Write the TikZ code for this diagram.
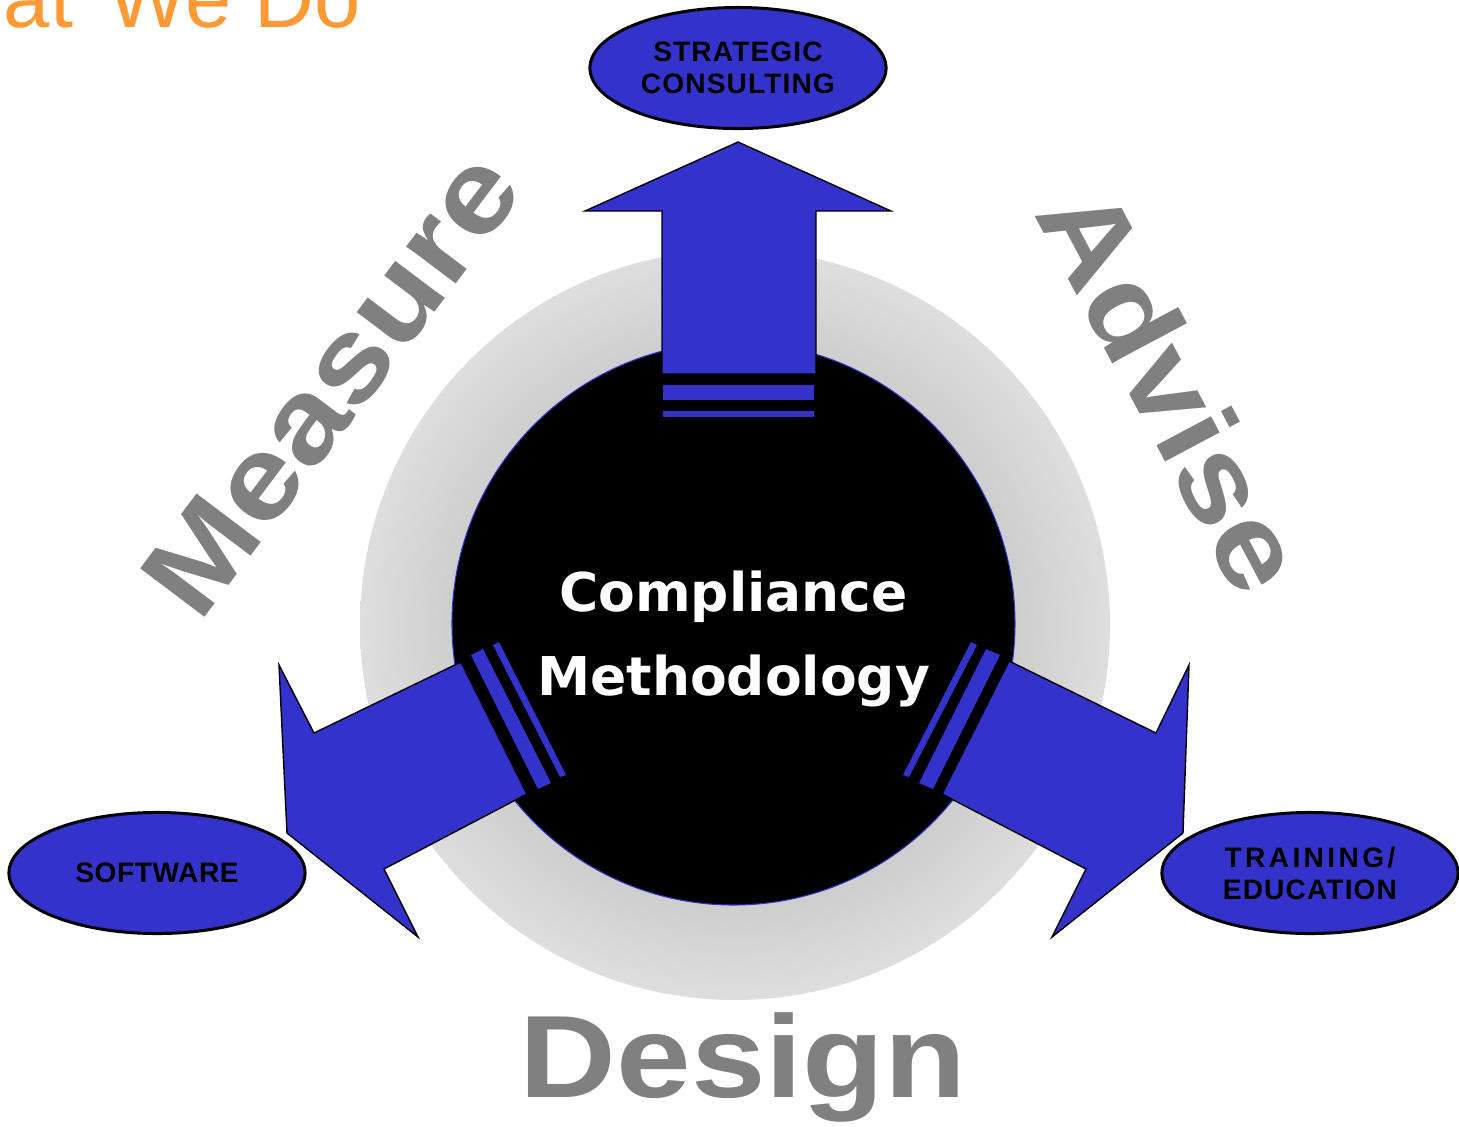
\documentclass[tikz,border=0pt]{standalone}
\usepackage{fontspec}
\setmainfont{Liberation Sans}
\newfontfamily\dejab{DejaVu Sans}
\usetikzlibrary{shapes.geometric}
\definecolor{arrowblue}{HTML}{3333CC}
\definecolor{wordgray}{HTML}{808080}
\definecolor{titleorange}{HTML}{FF9933}
\definecolor{ringin}{HTML}{CCCCCC}
\definecolor{ringout}{HTML}{DEDEDE}
\pgfdeclareradialshading{ringshade}{\pgfpoint{0bp}{0bp}}{color(0bp)=(ringin); color(18bp)=(ringin); color(25bp)=(ringout); color(50bp)=(ringout)}
\begin{document}
\begin{tikzpicture}[x=0.01cm,y=-0.01cm,
  bigword/.style={text=wordgray, inner sep=0pt, font=\fontsize{33.3}{36}\selectfont\bfseries},
  bubble/.style={ellipse, draw=black, line width=0.85pt, fill=arrowblue, minimum width=2.96cm, minimum height=1.21cm, inner sep=0pt, align=center, font=\fontsize{8}{9.1}\selectfont\bfseries},
  bluearrow/.style={fill=arrowblue, draw=black, line width=0.4pt, line join=miter},
  stripe/.style={fill=arrowblue},
  coretext/.style={text=white, inner sep=0pt, anchor=base, font=\dejab\bfseries\fontsize{15.2}{18}\selectfont}]
\useasboundingbox (0,0) rectangle (1459,1126);
\clip (0,0) rectangle (1459,1126);
% gray ring and black core
\shade[shading=ringshade] (735,625) circle [radius=375];
\filldraw[fill=black, draw=arrowblue, line width=0.3pt] (733.5,623.5) circle [radius=281.5];
% top arrow
\filldraw[bluearrow] (662,374) -- (662,211) -- (585,211) -- (738,142) -- (891,211) -- (816,211) -- (816,374) -- cycle;
\fill[stripe] (663,385) rectangle (814,400);
\fill[stripe] (663,411) rectangle (814,417);
% left arrow
\filldraw[bluearrow] (461,662) -- (314,733) -- (279,665) -- (287,833) -- (418,937) -- (384,869) -- (527,794) -- cycle;
\fill[stripe] (471,655) -- (483,649) -- (551,783) -- (538,789) -- cycle;
\fill[stripe] (493,645) -- (499,642) -- (566,775) -- (560,777) -- cycle;
% right arrow
\filldraw[bluearrow] (1009,661) -- (1156,733) -- (1189,665) -- (1183,833) -- (1052,937) -- (1086,869) -- (942,794) -- cycle;
\fill[stripe] (986,649) -- (1000,655) -- (933,789) -- (919,783) -- cycle;
\fill[stripe] (971,642) -- (977,645) -- (909,777) -- (903,775) -- cycle;
% bubbles
\node[bubble] (strat) at (738,68) {\addfontfeature{LetterSpace=4}STRATEGIC\\\addfontfeature{LetterSpace=4}CONSULTING};
\node[bubble] (soft) at (157,873) {\addfontfeature{LetterSpace=2}SOFTWARE};
\node[bubble] (train) at (1310,873) {\addfontfeature{LetterSpace=12}TRAINING/\\\addfontfeature{LetterSpace=4}EDUCATION};
% centre text
\node[coretext] (comp) at (733.5,611) {Compliance};
\node[coretext] (meth) at (733.5,695) {Methodology};
% big words
\node[bigword, rotate=53, anchor=base west] (measure) at (199,625) {\scalebox{1.145}[1]{Measure}};
\node[bigword, rotate=-62, anchor=base west] (advise) at (1033,213) {\scalebox{1.145}[1]{Advise}};
\node[bigword, anchor=base west] (design) at (519,1097) {\scalebox{1.145}[1]{Design}};
% title fragment
\node[text=titleorange, inner sep=0pt, anchor=base east, font=\fontsize{23.6}{26}\selectfont] (title) at (361,27) {at\hspace{0.12cm} We Do};
\end{tikzpicture}
\end{document}
